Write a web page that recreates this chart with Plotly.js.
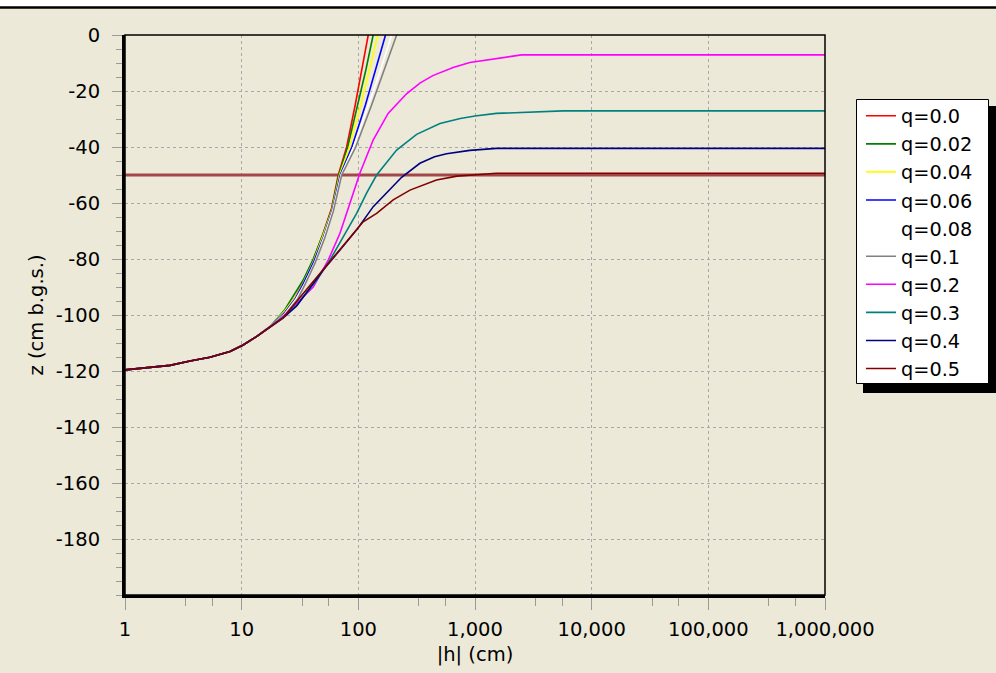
<!DOCTYPE html>
<html>
<head>
<meta charset="utf-8">
<script src="https://cdn.plot.ly/plotly-3.0.1.min.js"></script>
<style>html,body{margin:0;padding:0;background:#ECE9D8;}#chart{width:996px;height:673px;}</style>
</head>
<body>
<div id="chart"></div>
<script>
// ---- data ----
const seriesNames = ["q=0.0","q=0.02","q=0.04","q=0.06","q=0.08","q=0.1","q=0.2","q=0.3","q=0.4","q=0.5"];
const seriesColors = ["#FF0000","#008000","#FFFF00","#0000FF","#FFFFFF","#808080","#FF00FF","#008080","#000080","#800000"];

const h_q00 = [1,1.64,2.43,3.61,5.35,7.94,10.3,13.4,17.5,23.5,29,33.7,41.1,50,59,67.3,79.4,94,107,121.6];
const z_q00 = [-119.6,-118.7,-118,-116.4,-115.1,-113,-110.7,-107.7,-104.2,-98.5,-93.5,-88,-80.4,-70.8,-61.9,-50,-40,-25,-12.5,0];

const h_q002 = [1,1.64,2.43,3.61,5.35,7.94,10.3,13.4,17.5,23.5,26,33.7,41.1,50,59,68,81,99,116,134];
const z_q002 = [-119.6,-118.7,-118,-116.4,-115.1,-113,-110.7,-107.7,-104.2,-98,-95,-87.5,-80,-71,-62.5,-50,-40,-25,-12.5,0];

const h_q004 = [1,1.64,2.43,3.61,5.35,7.94,10.3,13.4,17.5,23.5,29,33.7,41.1,50,59.5,69,84,105,125,147];
const z_q004 = [-119.6,-118.7,-118,-116.4,-115.1,-113,-110.7,-107.7,-104.2,-98.5,-93.5,-88.5,-81,-71.5,-62.5,-50,-40,-25,-12.5,0];

const h_q006 = [1,1.64,2.43,3.61,5.35,7.94,10.3,13.4,17.5,23.5,29,34,41.5,50.5,60,70,88,115,141,171];
const z_q006 = [-119.6,-118.7,-118,-116.4,-115.1,-113,-110.7,-107.7,-104.2,-99,-94,-88.5,-81,-72,-62.5,-50,-40,-25,-12.5,0];

const h_q008 = [1,1.64,2.43,3.61,5.35,7.94,10.3,13.4,17.5,23.5,29,34.5,42,51,60.5,71,91,122,155,193];
const z_q008 = [-119.6,-118.7,-118,-116.4,-115.1,-113,-110.7,-107.7,-104.2,-99.5,-94.5,-89,-81.5,-72,-62.5,-50,-40,-25,-12.5,0];

const h_q01 = [1,1.64,2.43,3.61,5.35,7.94,10.3,13.4,17.5,24,30,35,42.5,51.5,61,72,95,130,167,213];
const z_q01 = [-119.6,-118.7,-118,-116.4,-115.1,-113,-110.7,-107.7,-104.2,-99.5,-94.5,-89,-81.5,-72.5,-63,-50,-40,-25,-12.5,0];

const h_q02 = [1,1.64,2.43,3.61,5.35,7.94,10.3,13.4,17.5,22.7,29.6,41.1,55.2,69.6,84.7,103,134,180,259,337,435,650,903,1256,1746,2506,1000000];
const z_q02 = [-119.6,-118.7,-118,-116.4,-115.1,-113,-110.7,-107.7,-104.2,-100.6,-95.8,-90,-80.4,-70.8,-60.1,-49.4,-37.5,-28,-21,-17.2,-14.5,-11.6,-9.8,-8.9,-8.1,-7.1,-7.1];

const h_q03 = [1,1.64,2.43,3.61,5.35,7.94,10.3,13.4,17.5,22.7,29.6,44,57.1,74.3,96.7,117.7,143.5,212.9,316,501,748,1000,1524,5700,1000000];
const z_q03 = [-119.6,-118.7,-118,-116.4,-115.1,-113,-110.7,-107.7,-104.2,-100.8,-96.5,-87.5,-80.4,-72,-63.7,-56.5,-50,-41.1,-35.5,-31.6,-29.8,-28.9,-28,-27.1,-27.1];

const h_q04 = [1,1.64,2.43,3.61,5.35,7.94,10.3,13.4,17.5,22.7,29.6,50,69.6,96.7,134.2,186.6,235,337,450,570,903,1524,1000000];
const z_q04 = [-119.6,-118.7,-118,-116.4,-115.1,-113,-110.7,-107.7,-104.2,-101,-96.8,-83.9,-76.8,-69.6,-61.3,-55,-50.8,-45.8,-43.5,-42.4,-41.2,-40.5,-40.5];

const h_q05 = [1,1.64,2.43,3.61,5.35,7.94,10.3,13.4,17.5,22.7,33.7,46.9,65.1,84.7,110,143.5,199,277,385,467,700,1524,1000000];
const z_q05 = [-119.6,-118.7,-118,-116.4,-115.1,-113,-110.7,-107.7,-104.2,-101,-92.3,-85.1,-78,-72,-66.7,-63.7,-58.9,-55.4,-53,-51.8,-50.4,-49.4,-49.4];

const refLineH = [1, 1000000];
const refLineZ = [-50, -50];

const xTickVals = [1,10,100,1000,10000,100000,1000000];
const xTickText = ["1","10","100","1,000","10,000","100,000","1,000,000"];
const xMinorVals = [3.3,5.6,33,56,330,560,3300,5600,33000,56000,330000,560000];
const yTickVals = [0,-20,-40,-60,-80,-100,-120,-140,-160,-180];
const yTickText = ["0","-20","-40","-60","-80","-100","-120","-140","-160","-180"];

// ---- figure ----
const hs = [h_q00,h_q002,h_q004,h_q006,h_q008,h_q01,h_q02,h_q03,h_q04,h_q05];
const zs = [z_q00,z_q002,z_q004,z_q006,z_q008,z_q01,z_q02,z_q03,z_q04,z_q05];

const FONT = "DejaVu Sans";
const traces = [{
  x: refLineH, y: refLineZ, mode: "lines", showlegend: false, hoverinfo: "skip",
  line: {color: "#A24848", width: 3}
}];
for (let i = 0; i < seriesNames.length; i++) {
  traces.push({
    x: hs[i], y: zs[i], name: seriesNames[i], mode: "lines",
    line: {color: seriesColors[i], width: 1.6}
  });
}

// pixel -> paper helpers (plot area: x 125..825, y 35..595)
const px = v => (v - 125) / 700;
const py = v => (595 - v) / 560;

const bg = "#ECE9D8";
const layout = {
  width: 996, height: 673,
  paper_bgcolor: bg, plot_bgcolor: bg,
  margin: {l: 125, r: 171, t: 35, b: 78, pad: 0},
  font: {family: FONT, size: 19.5, color: "#000000"},
  showlegend: true,
  legend: {
    x: px(861), xanchor: "left", y: py(96.7), yanchor: "top",
    bgcolor: "rgba(0,0,0,0)", borderwidth: 0,
    font: {family: FONT, size: 19.3, color: "#000000"},
    tracegroupgap: 0
  },
  xaxis: {
    type: "log", range: [0, 6], autorange: false,
    tickmode: "array", tickvals: xTickVals, ticktext: xTickText,
    ticks: "outside", ticklen: 12, tickwidth: 1, tickcolor: "#9A9A9A",
    showline: true, linecolor: "#000000", linewidth: 3, mirror: false,
    showgrid: true, gridcolor: "#A8A8A8", griddash: "dot", gridwidth: 1,
    zeroline: false, ticklabelstandoff: 3,
    minor: {tickmode: "array", tickvals: xMinorVals, ticks: "outside", ticklen: 8, tickcolor: "#9A9A9A", tickwidth: 1, showgrid: false},
    title: {text: "|h| (cm)", font: {family: FONT, size: 19.5}, standoff: 7}
  },
  yaxis: {
    range: [-200, 0], autorange: false,
    tickmode: "array", tickvals: yTickVals, ticktext: yTickText,
    ticks: "outside", ticklen: 10, tickwidth: 1, tickcolor: "#9A9A9A",
    showline: true, linecolor: "#000000", linewidth: 3, mirror: false,
    showgrid: true, gridcolor: "#A8A8A8", griddash: "dot", gridwidth: 1,
    zeroline: false, ticklabelstandoff: 8,
    minor: {dtick: 5, tick0: 0, ticks: "outside", ticklen: 6, tickcolor: "#9A9A9A", tickwidth: 1, showgrid: false},
    title: {text: "z (cm b.g.s.)", font: {family: FONT, size: 19.5}, standoff: 8}
  },
  shapes: [
    // white strip and dark rule at the top of the window
    {type: "rect", xref: "paper", yref: "paper", x0: px(-5), x1: px(1001), y0: py(7), y1: py(-5), fillcolor: "#FFFFFF", line: {width: 0}, layer: "below"},
    {type: "line", xref: "paper", yref: "paper", x0: px(-5), x1: px(1001), y0: py(7.5), y1: py(7.5), line: {color: "#000000", width: 2.5}},
    // thin frame round the plot area
    {type: "rect", xref: "paper", yref: "paper", x0: 0, x1: 1, y0: 0, y1: 1, line: {color: "#000000", width: 1.5}, layer: "above"},
    // legend drop shadow and legend box
    {type: "rect", xref: "paper", yref: "paper", x0: px(863), x1: px(997), y0: py(393), y1: py(106),
     fillcolor: "#000000", line: {width: 0}, layer: "above"},
    {type: "rect", xref: "paper", yref: "paper", x0: px(856.5), x1: px(988.5), y0: py(383.5), y1: py(99.5),
     fillcolor: "#FFFFFF", line: {color: "#000000", width: 1}, layer: "above"}
  ]
};

Plotly.newPlot("chart", traces, layout, {displayModeBar: false, staticPlot: true});
</script>
</body>
</html>
